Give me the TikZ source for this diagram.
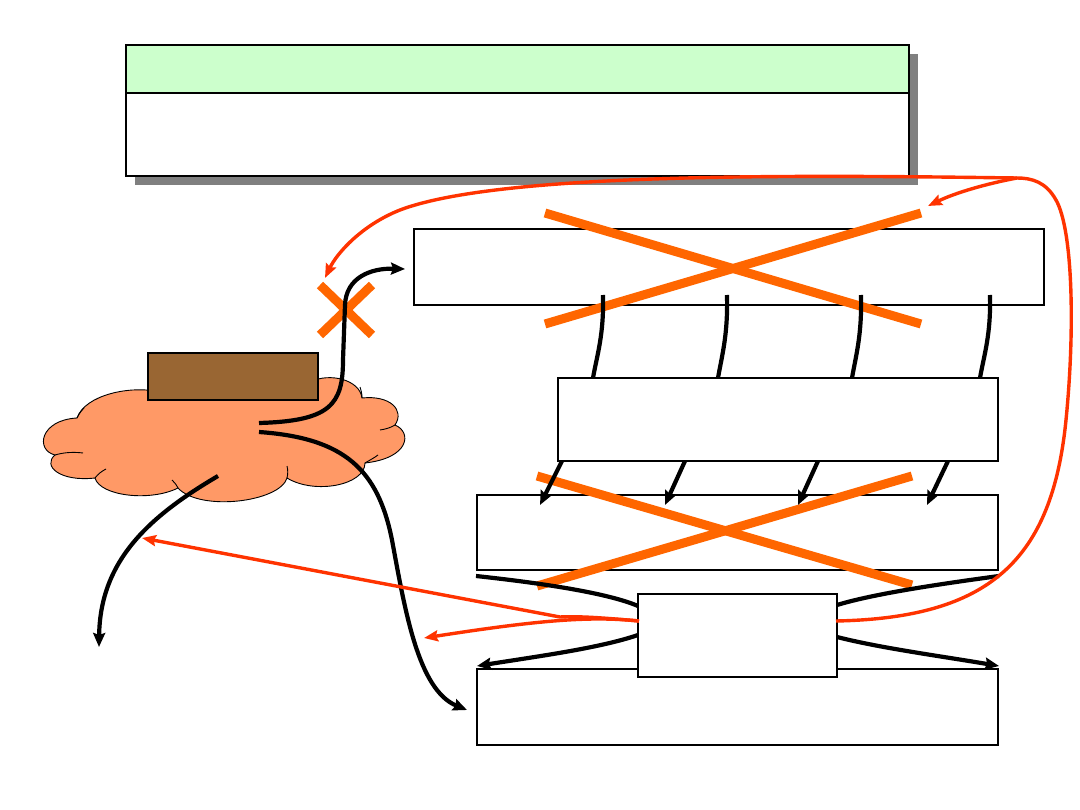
\documentclass[tikz,border=0pt]{standalone}
\usetikzlibrary{arrows.meta,calc}
\definecolor{xorange}{HTML}{FF6600}
\definecolor{xred}{HTML}{FF3300}
\definecolor{cloudfill}{HTML}{FF9966}
\definecolor{brownfill}{HTML}{996633}
\definecolor{headgreen}{HTML}{CCFFCC}
\definecolor{shadowgray}{HTML}{808080}
\tikzset{
  box/.style={draw=black, line width=1.8pt, fill=white, inner sep=0pt, outer sep=0pt},
  flow/.style={draw=black, line width=4.2pt},
  flowarrow/.style={flow, -{Stealth[length=14pt,width=12pt,inset=2pt]}},
  redline/.style={draw=xred, line width=3.4pt},
  redarrow/.style={redline, -{Stealth[length=14pt,width=11pt,inset=2pt]}},
  cross/.style={draw=xorange, line width=9pt},
  cloudline/.style={draw=black, line width=0.9pt},
}
\begin{document}
\begin{tikzpicture}[x=1pt,y=-1pt]
\useasboundingbox (0,0) rectangle (1080,810);
% top panel with shadow
\fill[shadowgray] (135,54) rectangle (918,185);
\node[box, minimum width=783pt, minimum height=131pt] (panel) at (517.5,110.5) {};
\node[box, fill=headgreen, minimum width=783pt, minimum height=48pt] (head) at (517.5,69) {};
% cloud
\path[cloudline, fill=cloudfill] (77,418)
  .. controls (85,395) and (130,385) .. (160,392)
  .. controls (200,370) and (280,368) .. (310,382)
  .. controls (330,372) and (360,380) .. (362,398)
  .. controls (390,395) and (405,410) .. (395,425)
  .. controls (412,432) and (410,458) .. (365,463)
  .. controls (365,485) and (315,495) .. (287,478)
  .. controls (280,502) and (200,512) .. (178,488)
  .. controls (150,502) and (100,496) .. (95,478)
  .. controls (60,482) and (42,466) .. (55,455)
  .. controls (35,450) and (40,420) .. (77,418) -- cycle;
\draw[cloudline] (55,455) .. controls (65,452) and (75,452) .. (83,453);
\draw[cloudline] (95,478) .. controls (98,474) and (102,471) .. (106,469);
\draw[cloudline] (178,488) .. controls (176,484) and (174,482) .. (172,480);
\draw[cloudline] (287,478) .. controls (288,474) and (288,470) .. (287,466);
\draw[cloudline] (365,463) .. controls (370,460) and (374,458) .. (378,455);
\draw[cloudline] (395,425) .. controls (390,428) and (386,429) .. (380,430);
\draw[cloudline] (362,398) .. controls (362,393) and (361,390) .. (360,387);
\draw[cloudline] (77,418) .. controls (79,414) and (81,411) .. (84,408);
% brown box
\node[draw=black, line width=1.2pt, fill=brownfill, minimum width=170pt, minimum height=47pt, inner sep=0pt] (brown) at (233,376.5) {};
% boxes
\node[box, minimum width=630pt, minimum height=76pt] (A) at (729,267) {};
\node[box, minimum width=440pt, minimum height=83pt] (B) at (778,419.5) {};
\node[box, minimum width=521pt, minimum height=75pt] (C) at (737.5,532.5) {};
\node[box, minimum width=521pt, minimum height=76pt] (E) at (737.5,707) {};
\node[box, minimum width=199pt, minimum height=83pt] (D) at (737.5,635.5) {};
% crosses
\draw[cross] (545,213) -- (921,324);
\draw[cross] (545,324) -- (921,213);
\draw[cross] (537,476) -- (912,585);
\draw[cross] (537,586) -- (912,476);
\draw[cross] (320,285) -- (372,335);
\draw[cross] (372,285) -- (320,335);
% endpoints
\coordinate (c1) at (259,423);
\coordinate (c2) at (259,432);
\coordinate (c3) at (218,476);
\coordinate (t1) at (405,269);
\coordinate (t2) at (467,710);
\coordinate (t3) at (99,647);
% cloud flows
\draw[flowarrow] (c1) .. controls (330,421) and (343,405) .. (343,360) -- (345,305) .. controls (346,278) and (370,268) .. (t1);
\draw[flowarrow] (c2) .. controls (345,438) and (378,470) .. (392,540) .. controls (405,610) and (418,690) .. (t2);
\draw[flowarrow] (c3) .. controls (150,516) and (100,560) .. (t3);
% A to B
\foreach \xa/\xb in {603/593, 727/718, 861/852, 990/980}{
  \draw[flow] (\xa,295) .. controls (\xa+1,335) and (\xb+4,355) .. (\xb,378);
}
% B to C
\foreach \xa/\xb in {562/540, 685/665, 818/798, 948/927}{
  \draw[flowarrow] (\xa,461) -- (\xb,505);
}
% C to D, D to E
\coordinate (cl) at (476,576);
\coordinate (cr) at (999,576);
\coordinate (el) at (477,666);
\coordinate (er) at (999,666);
\draw[flow] (cl) .. controls (550,584) and (610,594) .. (D.west |- 0,606);
\draw[flow] (cr) .. controls (925,586) and (870,595) .. (D.east |- 0,605);
\draw[flowarrow] (D.west |- 0,635) .. controls (600,648) and (540,656) .. (el);
\draw[flowarrow] (D.east |- 0,637) .. controls (880,648) and (940,656) .. (er);
% red arrows
\coordinate (dl) at (639,621);
\coordinate (dr) at (836,621);
\coordinate (r1) at (142,538);
\coordinate (r2) at (424,638);
\coordinate (r3) at (325,278);
\coordinate (r4) at (928,206);
\coordinate (rc) at (1017,178);
\draw[redarrow] (dl) .. controls (605,618) and (580,616) .. (560,617) -- (r1);
\draw[redarrow] (dl) .. controls (590,616) and (540,620) .. (r2);
\draw[redarrow] (dr) .. controls (990,618) and (1052,560) .. (1066,420)
  .. controls (1075,330) and (1073,230) .. (1056,200)
  .. controls (1046,182) and (1032,178) .. (rc)
  .. controls (800,175) and (500,172) .. (400,210)
  .. controls (362,225) and (337,253) .. (r3);
\draw[redarrow] (rc) .. controls (985,184) and (955,193) .. (r4);
\end{tikzpicture}
\end{document}
